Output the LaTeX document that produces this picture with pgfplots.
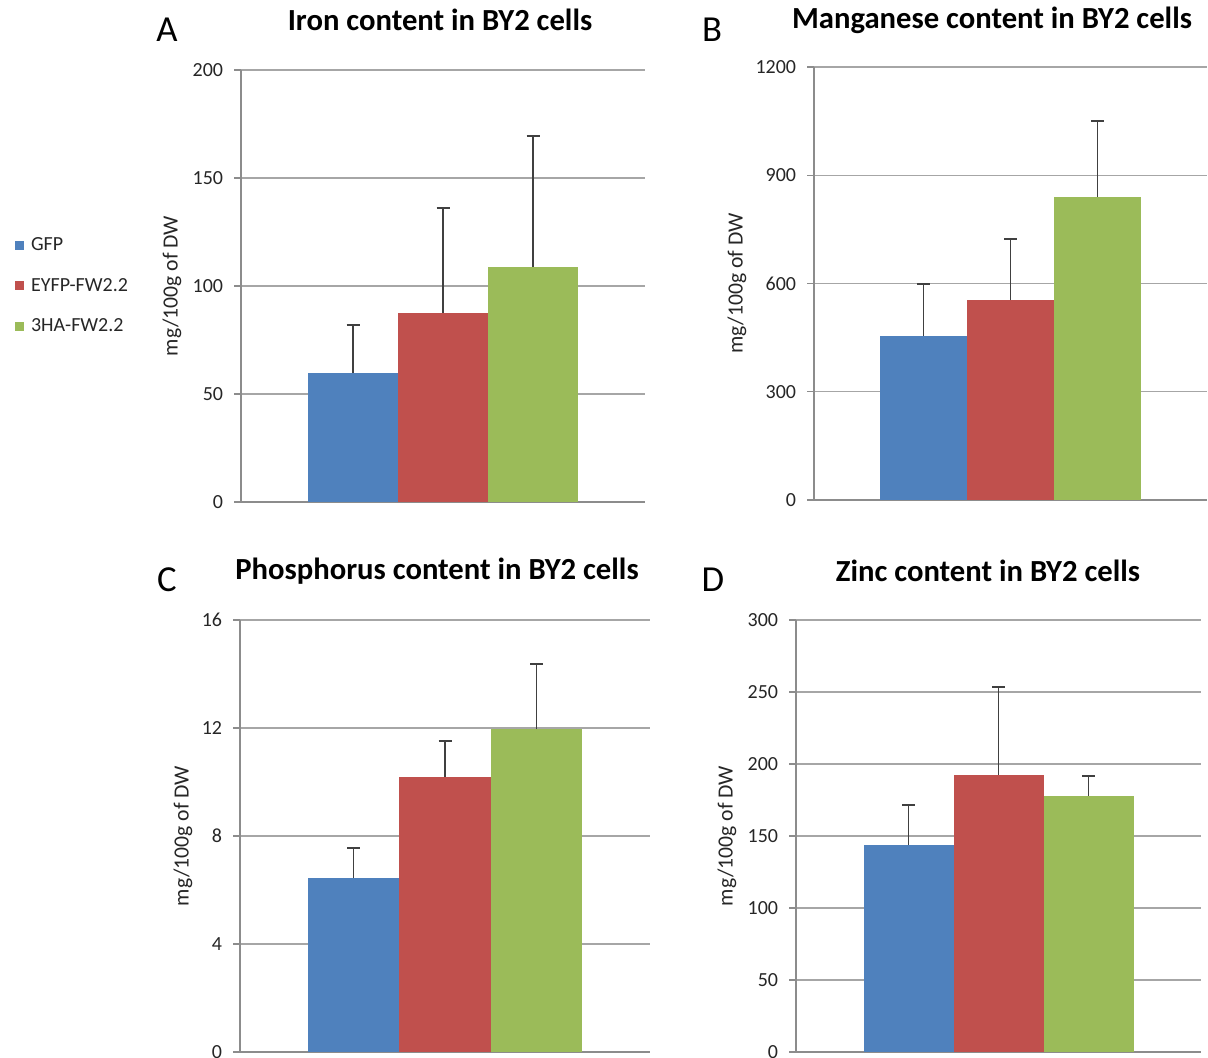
\documentclass[border=0pt]{standalone}
\usepackage{fontspec}
\setmainfont{Carlito}
\usepackage{pgfplots}
\usepackage{pgfplotstable}
\pgfplotsset{compat=1.18}

\definecolor{cGFP}{HTML}{4F81BD}
\definecolor{cEYFP}{HTML}{C0504D}
\definecolor{cHA}{HTML}{9BBB59}
\definecolor{gridgray}{HTML}{A6A6A6}
\definecolor{axisgray}{HTML}{8C8C8C}
\definecolor{txt}{HTML}{262626}
\definecolor{errc}{HTML}{404040}

\newcommand\ticksz{\fontsize{12}{14}\selectfont}
\newcommand\titlesz{\fontsize{18.4}{22}\selectfont\bfseries}

% one row per panel: bar height and upper error (+)
\pgfplotstableread{
x gfp gfpe eyfp eyfpe ha hae
0 59.7 22.2 87.5 48.6 108.8 60.6
}\ironT
\pgfplotstableread{
x gfp gfpe eyfp eyfpe ha hae
0 455 144 554 169 840 210
}\mnT
\pgfplotstableread{
x gfp gfpe eyfp eyfpe ha hae
0 6.44 1.12 10.19 1.33 11.96 2.41
}\phT
\pgfplotstableread{
x gfp gfpe eyfp eyfpe ha hae
0 143.5 28 192.4 61 177.8 14
}\znT

\pgfplotsset{
  panel/.style={
    scale only axis, anchor=south west, clip=false,
    ybar=0pt, xmin=-1, xmax=1, xtick=\empty, ymin=0,
    axis x line=bottom, axis y line=left,
    axis line style={-, draw=axisgray, line width=0.8pt},
    ymajorgrids, grid style={draw=gridgray, line width=0.8pt},
    tick align=outside, major tick length=4.2pt,
    ytick style={draw=axisgray, line width=0.8pt},
    yticklabel style={font=\ticksz, text=txt, xshift=-3pt},
    every axis y label/.style={at={(axis description cs:0,0.5)}, rotate=90, anchor=center},
    ylabel style={font=\fontsize{13}{15}\selectfont, text=txt},
    ylabel={mg/100g of DW},
    /pgf/number format/assume math mode=true,
    /pgf/number format/1000 sep={},
    error bars/y dir=plus, error bars/y explicit,
    error bars/error bar style={draw=errc, line width=0.9pt},
    error bars/error mark options={draw=errc, line width=0.9pt, mark size=3.9pt, rotate=90},
    legend image code/.code={\path[#1, draw=none] (0pt,-2.7pt) rectangle (5.4pt,2.7pt);},
  },
  sGFP/.style={fill=cGFP, draw=none},
  sEYFP/.style={fill=cEYFP, draw=none},
  sHA/.style={fill=cHA, draw=none},
}

\begin{document}
\begin{tikzpicture}
\path[use as bounding box] (0,0) rectangle (724.8pt,634.2pt);

% A: iron
\begin{axis}[panel, at={(144.6pt,333pt)}, width=242.4pt, height=259.2pt,
    ymax=200, ytick={0,50,...,200}, bar width=54pt,
    ylabel style={yshift=41.4pt},
    legend style={at={(axis description cs:-0.56,0.5)}, anchor=west,
      draw=none, fill=none, font=\ticksz, text=txt, row sep=11pt,
      inner sep=0pt, legend cell align=left,
      nodes={inner xsep=4.2pt}}]
  \addplot[sGFP] table[x=x, y=gfp, y error=gfpe] {\ironT};
  \addplot[sEYFP] table[x=x, y=eyfp, y error=eyfpe] {\ironT};
  \addplot[sHA] table[x=x, y=ha, y error=hae] {\ironT};
  \legend{GFP, EYFP-FW2.2, 3HA-FW2.2}
\end{axis}

% B: manganese
\begin{axis}[panel, at={(488.4pt,334.2pt)}, width=235.8pt, height=259.8pt,
    ymax=1200, ytick={0,300,...,1200}, bar width=52.2pt,
    ylabel style={yshift=46.2pt}]
  \addplot[sGFP] table[x=x, y=gfp, y error=gfpe] {\mnT};
  \addplot[sEYFP] table[x=x, y=eyfp, y error=eyfpe] {\mnT};
  \addplot[sHA] table[x=x, y=ha, y error=hae] {\mnT};
\end{axis}

% C: phosphorus
\begin{axis}[panel, at={(144pt,3pt)}, width=246pt, height=259.2pt,
    ymax=16, ytick={0,4,...,16}, bar width=54.9pt,
    ylabel style={yshift=34.2pt}]
  \addplot[sGFP] table[x=x, y=gfp, y error=gfpe] {\phT};
  \addplot[sEYFP] table[x=x, y=eyfp, y error=eyfpe] {\phT};
  \addplot[sHA] table[x=x, y=ha, y error=hae] {\phT};
\end{axis}

% D: zinc
\begin{axis}[panel, at={(477.6pt,3pt)}, width=243pt, height=259.2pt,
    ymax=300, ytick={0,50,...,300}, bar width=54pt,
    ylabel style={yshift=41.4pt}]
  \addplot[sGFP] table[x=x, y=gfp, y error=gfpe] {\znT};
  \addplot[sEYFP] table[x=x, y=eyfp, y error=eyfpe] {\znT};
  \addplot[sHA] table[x=x, y=ha, y error=hae] {\znT};
\end{axis}

% titles and panel letters
\begin{scope}[every node/.style={text=black, inner sep=0pt}]
  \node[font=\titlesz] at (264pt,622.2pt) {Iron content in BY2 cells};
  \node[font=\titlesz] at (595.2pt,622.2pt) {Manganese content in BY2 cells};
  \node[font=\titlesz] at (262.2pt,291.6pt) {Phosphorus content in BY2 cells};
  \node[font=\titlesz] at (592.8pt,291.6pt) {Zinc content in BY2 cells};
  \node[font=\fontsize{22}{26}\selectfont] at (100.2pt,616.2pt) {A};
  \node[font=\fontsize{22}{26}\selectfont] at (427.2pt,616.2pt) {B};
  \node[font=\fontsize{22}{26}\selectfont] at (100.2pt,286.2pt) {C};
  \node[font=\fontsize{22}{26}\selectfont] at (427.8pt,286.2pt) {D};
\end{scope}
\end{tikzpicture}
\end{document}
